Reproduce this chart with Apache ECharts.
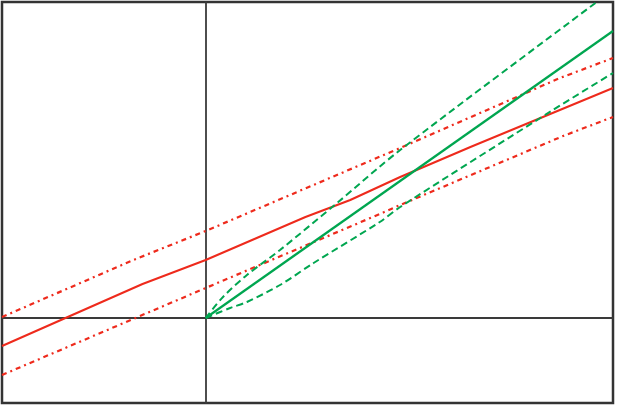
<!DOCTYPE html>
<html><head><meta charset="utf-8">
<script src="https://cdn.jsdelivr.net/npm/echarts@6/dist/echarts.min.js"></script>
<style>html,body{margin:0;padding:0;background:#fff}#c{width:617px;height:406px}</style>
</head><body><div id="c"></div>
<script>
const redMid = [[-2,-0.28],[-0.62,0.34],[0,0.58],[0.98,1.01],[1.42,1.18],[1.91,1.41],[2.6,1.71],[4,2.30]];
const redUpper = [[-2,0.01],[-0.71,0.58],[0,0.87],[1.91,1.70],[3.48,2.40],[4,2.60]];
const redLower = [[-2,-0.57],[0,0.30],[1.71,1.04],[1.91,1.13],[3.51,1.82],[4,2.01]];
const greenMid = [[0,0],[4,2.87]];
const greenUpper = [[0,0],[0.17,0.21],[0.405,0.43],[0.73,0.68],[1.29,1.15],[1.91,1.68],[3.84,3.16],[4,3.28]];
const greenLower = [[0,0],[0.24,0.10],[0.405,0.16],[0.73,0.33],[1.06,0.55],[1.71,0.96],[1.91,1.11],[3.41,2.08],[4,2.45]];
const RED = '#ee2a1c', GREEN = '#00a650';
const chart = echarts.init(document.getElementById('c'));
function s(data, color, type, w, smooth){
  return {type:'line', data, symbol:'none', silent:true, animation:false, clip:true, smooth:smooth||false,
    lineStyle:{color, width:w, type}};
}
chart.setOption({
  animation:false,
  grid:{left:2,right:4,top:2,bottom:3,show:true,borderColor:'#333',borderWidth:2.5,backgroundColor:'#fff'},
  xAxis:{type:'value',min:-2,max:4,axisLabel:{show:false},axisTick:{show:false},splitLine:{show:false},
    axisLine:{show:true,onZero:true,lineStyle:{color:'#3a3a3a',width:1.8}}},
  yAxis:{type:'value',min:-0.85,max:3.16,axisLabel:{show:false},axisTick:{show:false},splitLine:{show:false},
    axisLine:{show:true,onZero:true,lineStyle:{color:'#3a3a3a',width:1.8}}},
  series:[
    s(redUpper, RED, [5,4,2,4], 2.2),
    s(redLower, RED, [5,4,2,4], 2.2),
    s(redMid, RED, 'solid', 2),
    s(greenUpper, GREEN, [7,4], 2, 0.3),
    s(greenLower, GREEN, [7,4], 2, 0.3),
    s(greenMid, GREEN, 'solid', 2.2)
  ]
});
</script></body></html>
